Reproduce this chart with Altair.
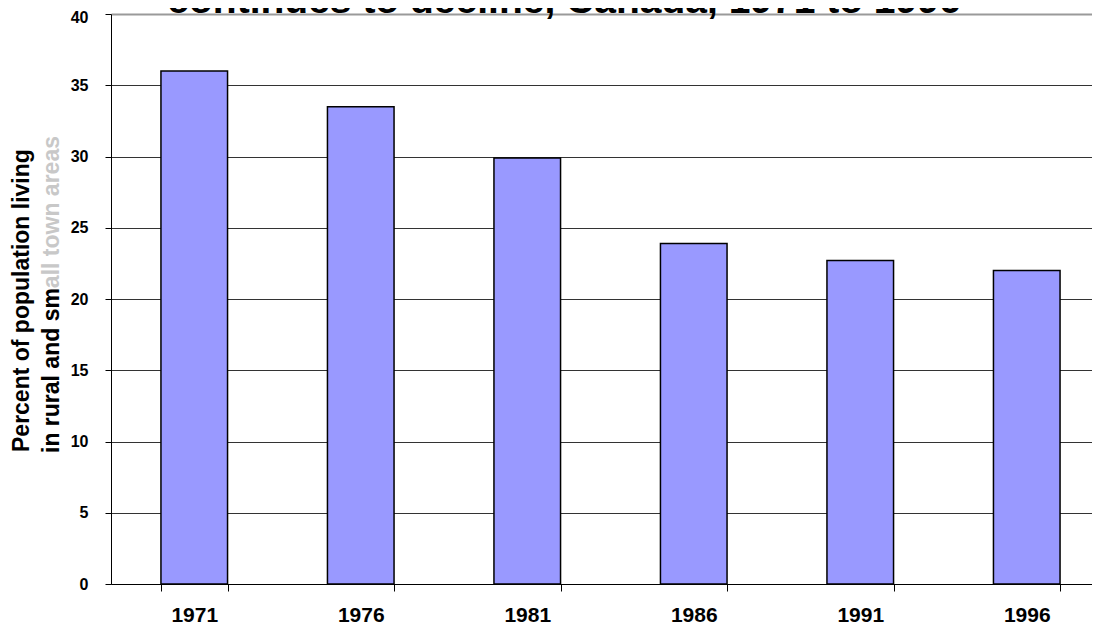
import altair as alt
import pandas as pd

# ---- data ----
years = ["1971", "1976", "1981", "1986", "1991", "1996"]
percent = [36.0, 33.5, 29.9, 23.9, 22.7, 22.0]
y_ticks = [0, 5, 10, 15, 20, 25, 30, 35, 40]

title_text = "continues to decline, Canada, 1971 to 1996"
ytitle_line1 = "Percent of population living"
ytitle_line2 = "in rural and small town areas"
ytitle_line2_dark = "in rural and sm"

FONT = "Liberation Sans"

df = pd.DataFrame({"year": years, "pct": percent})

x_enc = alt.X(
    "year:N",
    sort=years,
    scale=alt.Scale(range=[0, 999], paddingInner=0.6, paddingOuter=0.3),
    axis=alt.Axis(
        title="",
        labelAngle=0,
        labelFont=FONT,
        labelFontSize=21,
        labelFontWeight="bold",
        labelColor="black",
        labelPadding=13,
        tickBand="extent",
        tickSize=7,
        tickColor="black",
        tickWidth=1,
        domainColor="black",
        domainWidth=1,
        grid=False,
    ),
)
y_enc = alt.Y(
    "pct:Q",
    scale=alt.Scale(domain=[0, 40], nice=False, zero=True),
    axis=alt.Axis(
        title="",
        values=y_ticks,
        labelFont=FONT,
        labelFontSize=16,
        labelFontWeight="bold",
        labelColor="black",
        labelPadding=17,
        labelOffset=alt.condition("datum.value == 40", alt.value(3), alt.value(0)),
        tickSize=6,
        tickColor="black",
        tickWidth=1,
        domainColor="black",
        domainWidth=1,
        grid=True,
        gridColor=alt.condition("datum.value == 40", alt.value("#9a9a9a"), alt.value("#333333")),
        gridWidth=alt.condition("datum.value == 40", alt.value(2), alt.value(1)),
    ),
)

bars = alt.Chart(df).mark_bar(
    fill="#9999ff", stroke="black", strokeWidth=1.5
).encode(x=x_enc, y=y_enc)

title_mark = alt.Chart(pd.DataFrame({"t": [title_text]})).mark_text(
    font=FONT, fontSize=39, fontWeight="bold", color="black",
    align="center", baseline="alphabetic"
).encode(text="t:N", x=alt.value(453), y=alt.value(-1))

yt1 = alt.Chart(pd.DataFrame({"t": [ytitle_line1]})).mark_text(
    font=FONT, fontSize=23, fontWeight="bold", color="black",
    align="left", baseline="alphabetic", angle=270
).encode(text="t:N", x=alt.value(-82), y=alt.value(438))

yt2 = alt.Chart(pd.DataFrame({"t": [ytitle_line2]})).mark_text(
    font=FONT, fontSize=23, fontWeight="bold", color="#c8c8c8",
    align="left", baseline="alphabetic", angle=270
).encode(text="t:N", x=alt.value(-52), y=alt.value(439))

yt2_dark = alt.Chart(pd.DataFrame({"t": [ytitle_line2_dark]})).mark_text(
    font=FONT, fontSize=23, fontWeight="bold", color="black",
    align="left", baseline="alphabetic", angle=270
).encode(text="t:N", x=alt.value(-52), y=alt.value(439))

chart = alt.layer(bars, title_mark, yt1, yt2, yt2_dark).properties(
    width=981,
    height=570,
    autosize=alt.AutoSizeParams(type="none"),
    padding={"left": 103, "top": 6, "right": 0, "bottom": 41},
    background="white",
).configure_view(stroke="transparent")

chart.save("out.html", embed_options={"renderer": "svg", "actions": False})
